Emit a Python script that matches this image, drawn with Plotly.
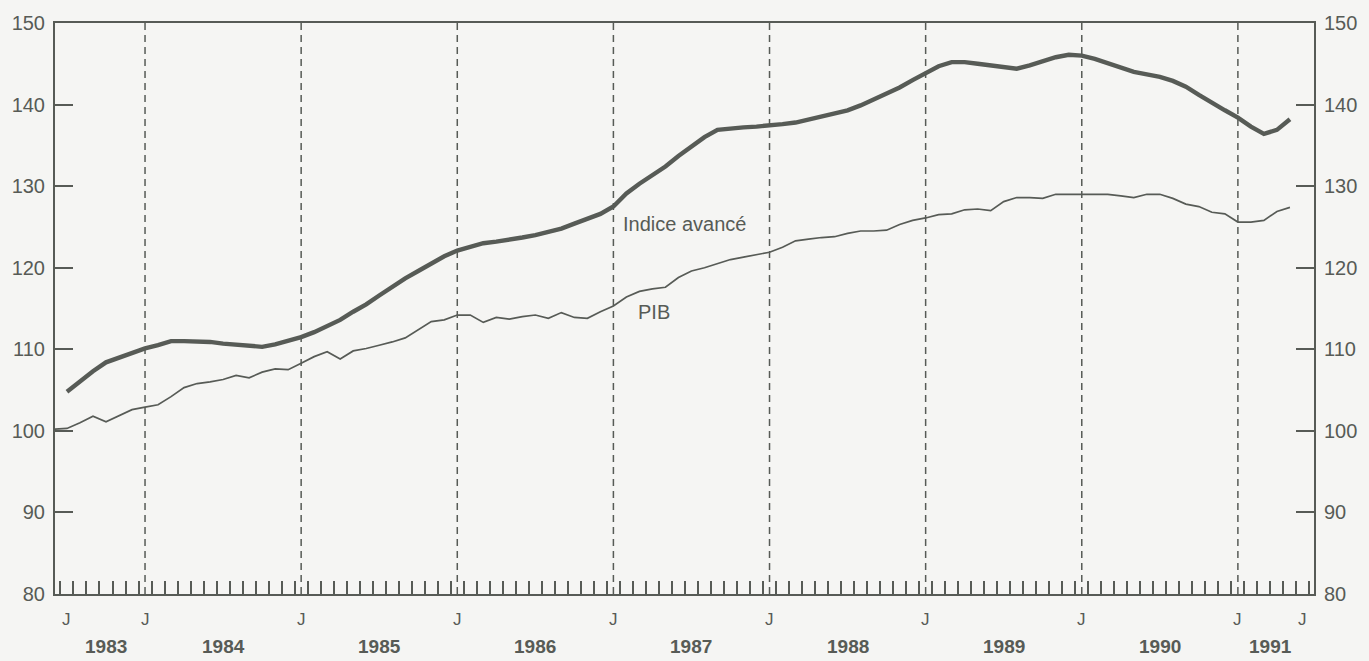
import plotly.graph_objects as go

# Month index: 0 = first "J" on the axis
leading_months = list(range(0, 95))
leading_index = [
    104.8, 106.1, 107.3, 108.4, 109.0, 109.6, 110.1, 110.5, 111.0, 111.0,
    111.0, 110.9, 110.7, 110.6, 110.5, 110.3, 110.6, 111.0, 111.5, 112.1,
    112.8, 113.6, 114.6, 115.5, 116.6, 117.7, 118.7, 119.6, 120.5, 121.4,
    122.1, 122.6, 123.0, 123.2, 123.4, 123.7, 124.0, 124.4, 124.8, 125.4,
    126.0, 126.6, 127.5, 129.1, 130.3, 131.4, 132.4, 133.7, 134.9, 136.0,
    136.9, 137.1, 137.2, 137.3, 137.4, 137.6, 137.8, 138.2, 138.6, 139.0,
    139.3, 139.9, 140.6, 141.3, 142.1, 143.0, 143.8, 144.7, 145.2, 145.2,
    145.0, 144.8, 144.5, 144.4, 144.8, 145.3, 145.8, 146.1, 146.0, 145.6,
    145.1, 144.6, 144.0, 143.7, 143.4, 142.9, 142.2, 141.2, 140.2, 139.3,
    138.4, 137.3, 136.4, 136.9, 138.2,
]

pib_months = list(range(-1, 95))
pib = [
    100.2,
    100.3, 101.0, 101.8, 101.1, 101.8, 102.6, 102.9, 103.2, 104.2, 105.3,
    105.8, 106.0, 106.3, 106.8, 106.5, 107.2, 107.6, 107.5, 108.3, 109.1,
    109.7, 108.8, 109.8, 110.1, 110.5, 110.9, 111.4, 112.4, 113.4, 113.6,
    114.2, 114.2, 113.3, 113.9, 113.7, 114.0, 114.2, 113.8, 114.5, 113.9,
    113.8, 114.6, 115.3, 116.4, 117.1, 117.4, 117.6, 118.8, 119.6, 120.0,
    120.5, 121.0, 121.3, 121.6, 121.9, 122.5, 123.3, 123.5, 123.7, 123.8,
    124.2, 124.5, 124.5, 124.6, 125.3, 125.8, 126.1, 126.5, 126.6, 127.1,
    127.2, 127.0, 128.1, 128.6, 128.6, 128.5, 129.0, 129.0, 129.0, 129.0,
    129.0, 128.8, 128.6, 129.0, 129.0, 128.5, 127.8, 127.5, 126.8, 126.6,
    125.6, 125.6, 125.8, 126.9, 127.4,
]

j_months = [0, 6, 18, 30, 42, 54, 66, 78, 90, 95]
dashed_months = [6, 18, 30, 42, 54, 66, 78, 90]
year_labels = ["1983", "1984", "1985", "1986", "1987", "1988", "1989", "1990", "1991"]
year_months = [3, 12, 24, 36, 48, 60, 72, 84, 92.5]
y_ticks = [80, 90, 100, 110, 120, 130, 140, 150]
month_ticks = [m - 0.5 for m in range(0, 97)]

INK = "#575b56"
BG = "#f5f5f3"
FONT = "Liberation Sans, Arial, sans-serif"

fig = go.Figure()
fig.add_trace(go.Scatter(x=pib_months, y=pib, mode="lines", yaxis="y2",
                         line=dict(color=INK, width=1.7), hoverinfo="skip",
                         showlegend=False))
fig.add_trace(go.Scatter(x=leading_months, y=leading_index, mode="lines",
                         line=dict(color=INK, width=4.4), hoverinfo="skip",
                         showlegend=False))

shapes = []
for m in dashed_months:
    shapes.append(dict(type="line", xref="x", yref="paper", x0=m, x1=m, y0=0, y1=1,
                       line=dict(color=INK, width=1.5, dash="7px,5px"), layer="below"))

annotations = []
for m in j_months:
    annotations.append(dict(x=m, y=-0.045, xref="x", yref="paper", text="J",
                            showarrow=False, yanchor="middle",
                            font=dict(family=FONT, size=17, color=INK)))
for m, t in zip(year_months, year_labels):
    annotations.append(dict(x=m, y=-0.092, xref="x", yref="paper", text=t,
                            showarrow=False, yanchor="middle",
                            font=dict(family=FONT, size=19, color=INK, weight="bold")))
annotations.append(dict(x=42.6, y=125.3, xref="x", yref="y", text="Indice avancé",
                        showarrow=False, xanchor="left",
                        font=dict(family=FONT, size=20, color=INK)))
annotations.append(dict(x=43.7, y=114.6, xref="x", yref="y", text="PIB",
                        showarrow=False, xanchor="left",
                        font=dict(family=FONT, size=20, color=INK)))

yaxis_common = dict(range=[80, 150], tickvals=y_ticks, ticks="inside", ticklen=18,
                    tickwidth=2, tickcolor=INK, showline=True, linecolor=INK,
                    linewidth=2, showgrid=False, zeroline=False,
                    ticklabelstandoff=4,
                    tickfont=dict(family=FONT, size=20, color=INK))

fig.update_layout(
    width=1369, height=661,
    margin=dict(l=53, r=55, t=17, b=67),
    paper_bgcolor=BG, plot_bgcolor=BG,
    xaxis=dict(range=[-0.92, 95.85], tickvals=month_ticks, ticktext=[""] * len(month_ticks),
               ticks="inside", ticklen=13, tickwidth=1.6, tickcolor=INK,
               showline=True, linecolor=INK, linewidth=2, mirror=True,
               showgrid=False, zeroline=False),
    yaxis=dict(side="left", **yaxis_common),
    yaxis2=dict(side="right", overlaying="y", **yaxis_common),
    shapes=shapes,
    annotations=annotations,
)

fig.write_html(
    "out.html",
    config={"displayModeBar": False},
    post_script="document.body.style.margin='0';document.body.style.padding='0';"
                "document.documentElement.style.overflow='hidden';",
)
